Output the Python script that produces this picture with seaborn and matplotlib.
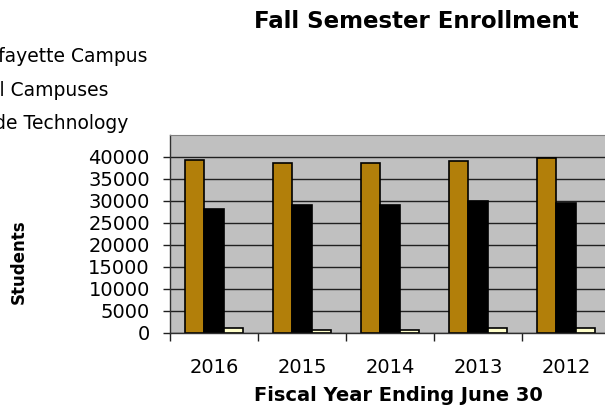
import pandas as pd
import matplotlib
matplotlib.use("Agg")
import matplotlib.pyplot as plt
import seaborn as sns
from matplotlib.ticker import FixedLocator

# DATA
years = ['2016', '2015', '2014', '2013', '2012']
campuses = ['West Lafayette Campus', 'Regional Campuses', 'Statewide Technology']
west_lafayette = [39380, 38700, 38700, 39160, 39700]
regional = [28270, 29040, 29040, 30020, 29560]
statewide = [1050, 750, 750, 1050, 1050]
colors = ['#B27F0A', '#000000', '#FFFFCC']

W, H = 605, 407

def build_frame():
    rows = []
    for campus, vals in zip(campuses, [west_lafayette, regional, statewide]):
        for y, v in zip(years, vals):
            rows.append({'Year': y, 'Campus': campus, 'Students': v})
    return pd.DataFrame(rows)

df = build_frame()

sns.set_style('white')
plt.rcParams['font.family'] = ['DejaVu Sans']
plt.rcParams['text.color'] = 'black'
plt.rcParams['axes.labelcolor'] = 'black'

fig = plt.figure(figsize=(W / 100, H / 100), dpi=100)
# plot area runs past the right edge, like the cropped original
ax = fig.add_axes([170 / W, (H - 333) / H, 440 / W, 198 / H])
ax.set_facecolor('#C0C0C0')

sns.barplot(data=df, x='Year', y='Students', hue='Campus', order=years,
            hue_order=campuses, palette=colors, edgecolor='black',
            linewidth=1.2, width=0.67, ax=ax, saturation=1, errorbar=None)

ax.set_ylim(0, 45000)
ax.set_xlim(-0.5, len(years) - 0.5)
ax.set_yticks(range(0, 40001, 5000))
ax.yaxis.grid(True, color='#202020', linewidth=1)
ax.xaxis.grid(False)
ax.set_axisbelow(True)

# ticks at category boundaries, labels in the middle
ax.xaxis.set_minor_locator(FixedLocator([i - 0.5 for i in range(len(years) + 1)]))
ax.tick_params(axis='x', which='major', bottom=True, length=0, pad=18,
               labelsize=14, labelcolor='black')
ax.tick_params(axis='x', which='minor', bottom=True, length=6, width=1,
               color='#202020')
ax.tick_params(axis='y', left=True, length=5, width=1, color='#202020',
               pad=9.5, labelsize=14, labelcolor='black')

for s in ['left', 'bottom']:
    ax.spines[s].set_color('#303030')
    ax.spines[s].set_linewidth(1)
ax.spines['top'].set_color('#808080')
ax.spines['right'].set_visible(False)

ax.set_xlabel('Fiscal Year Ending June 30', fontsize=14, fontweight='bold')
ax.set_ylabel('Students', fontsize=12, fontweight='bold')
ax.xaxis.set_label_coords((398 - 170) / 440, (333 - 386) / 198)
ax.yaxis.set_label_coords((28 - 170) / 440, (333 - 262) / 198)

fig.text(416 / W, 1 - 22 / H, 'Fall Semester Enrollment', fontsize=16.5,
         fontweight='bold', ha='center', va='center')

# legend sits to the upper left, partly cut off by the image edge
handles, labels = ax.get_legend_handles_labels()
ax.get_legend().remove()
leg = fig.legend(handles, labels, loc='upper left', bbox_to_anchor=(0, 1),
                 frameon=False, fontsize=13.5, labelspacing=0.75,
                 handlelength=1, handleheight=1)
fig.canvas.draw()
bb = leg.get_texts()[0].get_window_extent()
dx = 147 - bb.x1
dy = (H - 57) - (bb.y0 + bb.y1) / 2
leg.set_bbox_to_anchor((dx / W, 1 + dy / H))

fig.savefig('out.png', dpi=100)
